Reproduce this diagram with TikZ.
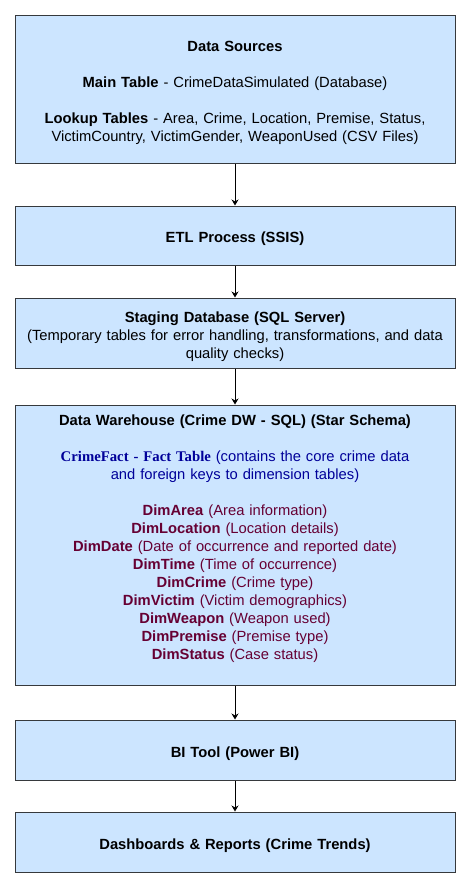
\documentclass[tikz,border=0pt]{standalone}
\usepackage{fontspec}
\setmainfont{Liberation Sans}
\newfontfamily\timesfont{Liberation Serif}
\usetikzlibrary{arrows.meta}
\definecolor{boxfill}{HTML}{CCE5FF}
\definecolor{boxline}{HTML}{36393D}
\definecolor{factblue}{HTML}{000099}
\definecolor{dimred}{HTML}{660033}
\begin{document}
\begin{tikzpicture}[x=1pt,y=-1pt,
  stage/.style={draw=boxline,fill=boxfill,line width=1pt,minimum width=440pt,inner sep=0pt,
    align=center,text width=430pt,font=\fontsize{14.75}{18}\selectfont,
    execute at begin node=\rule{0pt}{17.5pt}},
  words/.style={inner sep=0pt,align=center,text width=430pt,font=\fontsize{14.75}{18}\selectfont},
  flow/.style={-{Stealth[length=6pt,width=7pt]},line width=1pt}]
\useasboundingbox[fill=white] (0,0) rectangle (466,884);

% pipeline boxes
\node[stage,minimum height=148pt] (src) at (235,89) {\textbf{Data Sources}\\[18pt]
  \textbf{Main Table} - CrimeDataSimulated (Database)\\[18pt]
  \textbf{Lookup Tables} - Area, Crime, Location, Premise, Status,\\
  VictimCountry, VictimGender, WeaponUsed (CSV Files)};
\node[stage,minimum height=59pt] (etl) at (235,235.5) {\textbf{ETL Process (SSIS)}};
\node[stage,minimum height=70pt] (stg) at (235,333) {\textbf{Staging Database (SQL Server)}\\
  (Temporary tables for error handling, transformations, and data\\ quality checks)};
\node[stage,minimum height=280pt] (dw) at (235,545) {};
\node[words,anchor=north] (dwtext) at (235,415) {\textbf{Data Warehouse (Crime DW - SQL) (Star Schema)}\\[18pt]
  \color{factblue}{\timesfont\bfseries CrimeFact - Fact Table} (contains the core crime data\\
  and foreign keys to dimension tables)\\[18pt]
  \color{dimred}\textbf{DimArea} (Area information)\\
  \textbf{DimLocation} (Location details)\\
  \textbf{DimDate} (Date of occurrence and reported date)\\
  \textbf{DimTime} (Time of occurrence)\\
  \textbf{DimCrime} (Crime type)\\
  \textbf{DimVictim} (Victim demographics)\\
  \textbf{DimWeapon} (Weapon used)\\
  \textbf{DimPremise} (Premise type)\\
  \textbf{DimStatus} (Case status)};
\node[stage,minimum height=60pt] (bi) at (235,750) {\textbf{BI Tool (Power BI)}};
\node[stage,minimum height=60pt] (dash) at (235,842) {\textbf{Dashboards \& Reports (Crime Trends)}};

% arrows
\draw[flow] (src) -- (etl);
\draw[flow] (etl) -- (stg);
\draw[flow] (stg) -- (dw);
\draw[flow] (dw) -- (bi);
\draw[flow] (bi) -- (dash);

\end{tikzpicture}
\end{document}
